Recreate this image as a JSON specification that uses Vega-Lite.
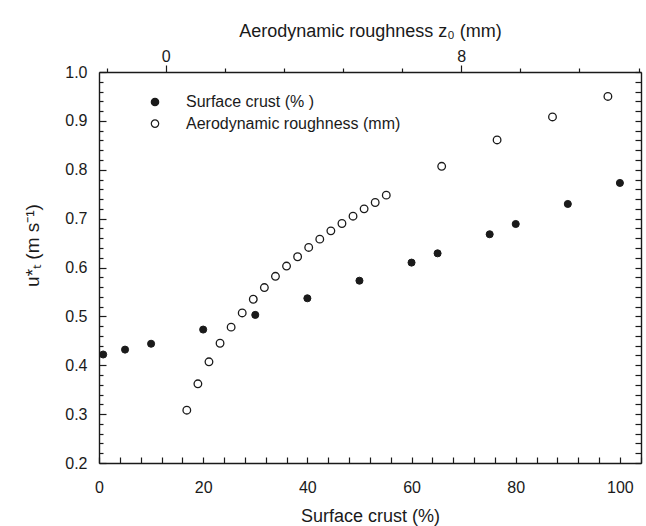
{
  "$schema": "https://vega.github.io/schema/vega-lite/v6.json",
  "width": 542,
  "height": 391,
  "autosize": "none",
  "padding": {"left": 99, "top": 72, "right": 5, "bottom": 63},
  "config": {
    "font": "Liberation Sans",
    "view": {"stroke": null},
    "axis": {
      "domainColor": "#1a1a1a",
      "domainWidth": 1.4,
      "tickColor": "#1a1a1a",
      "tickWidth": 1.2,
      "labelColor": "#1a1a1a",
      "titleColor": "#1a1a1a",
      "labelFontSize": 16,
      "titleFontSize": 18,
      "titleFontWeight": "normal",
      "grid": false,
      "labelFlush": false,
      "labelOverlap": false
    }
  },
  "datasets": {
    "crust": [
      {"crust": 0.8, "ustar": 0.422},
      {"crust": 5, "ustar": 0.432},
      {"crust": 10, "ustar": 0.444},
      {"crust": 20, "ustar": 0.473},
      {"crust": 30, "ustar": 0.503},
      {"crust": 40, "ustar": 0.537},
      {"crust": 50, "ustar": 0.573},
      {"crust": 60, "ustar": 0.61},
      {"crust": 65, "ustar": 0.629},
      {"crust": 75, "ustar": 0.668},
      {"crust": 80, "ustar": 0.689},
      {"crust": 90, "ustar": 0.73},
      {"crust": 100, "ustar": 0.773}
    ],
    "rough": [
      {"z0": 0.57, "ustar": 0.308},
      {"z0": 0.87, "ustar": 0.362},
      {"z0": 1.17, "ustar": 0.407},
      {"z0": 1.47, "ustar": 0.445},
      {"z0": 1.77, "ustar": 0.478},
      {"z0": 2.07, "ustar": 0.507},
      {"z0": 2.37, "ustar": 0.535},
      {"z0": 2.67, "ustar": 0.559},
      {"z0": 2.97, "ustar": 0.582},
      {"z0": 3.27, "ustar": 0.603},
      {"z0": 3.57, "ustar": 0.622},
      {"z0": 3.87, "ustar": 0.641},
      {"z0": 4.17, "ustar": 0.658},
      {"z0": 4.47, "ustar": 0.675},
      {"z0": 4.77, "ustar": 0.69},
      {"z0": 5.07, "ustar": 0.705},
      {"z0": 5.37, "ustar": 0.72},
      {"z0": 5.67, "ustar": 0.733},
      {"z0": 5.97, "ustar": 0.748},
      {"z0": 7.47, "ustar": 0.807},
      {"z0": 8.97, "ustar": 0.861},
      {"z0": 10.47, "ustar": 0.908},
      {"z0": 11.97, "ustar": 0.95}
    ]
  },
  "layer": [
    {
      "data": {"name": "crust"},
      "mark": {"type": "point", "filled": true, "size": 50, "stroke": "#1a1a1a", "strokeWidth": 1, "opacity": 1},
      "encoding": {
        "x": {
          "field": "crust", "type": "quantitative",
          "scale": {"domain": [0, 104.05], "nice": false, "zero": false},
          "axis": {
            "orient": "bottom",
            "values": [0,4,8,12,16,20,24,28,32,36,40,44,48,52,56,60,64,68,72,76,80,84,88,92,96,100,104],
            "format": "d",
            "labelExpr": "datum.value % 20 === 0 ? datum.label : ''",
            "labelOverlap": false,
            "tickSize": -6,
            "labelPadding": 22,
            "title": "Surface crust (%)",
            "titleY": 44
          }
        },
        "y": {
          "field": "ustar", "type": "quantitative",
          "scale": {"domain": [0.2, 1.0], "nice": false, "zero": false},
          "axis": {
            "orient": "left",
            "values": [0.2,0.22,0.24,0.26,0.28,0.3,0.32,0.34,0.36,0.38,0.4,0.42,0.44,0.46,0.48,0.5,0.52,0.54,0.56,0.58,0.6,0.62,0.64,0.66,0.68,0.7,0.72,0.74,0.76,0.78,0.8,0.82,0.84,0.86,0.88,0.9,0.92,0.94,0.96,0.98,1.0],
            "format": ".1f",
            "labelExpr": "abs(datum.value*10 - round(datum.value*10)) < 0.001 ? datum.label : ''",
            "labelOverlap": false,
            "tickSize": {"condition": {"test": "abs(datum.value*10 - round(datum.value*10)) < 0.001", "value": -7}, "value": -4},
            "labelPadding": 19,
            "title": "u*ₜ (m s⁻¹)",
            "titleFontSize": 19,
            "titleX": -61,
            "titleY": 173,
            "titleBaseline": "alphabetic"
          }
        },
        "fill": {
          "datum": "Surface crust (% )", "type": "nominal",
          "scale": {"domain": ["Surface crust (% )", "Aerodynamic roughness (mm)"], "range": ["#1a1a1a", "#ffffff"]},
          "legend": {
            "orient": "none",
            "legendX": 48,
            "legendY": 22,
            "title": null,
            "padding": 0,
            "symbolType": "circle",
            "symbolSize": 55,
            "symbolStrokeColor": "#1a1a1a",
            "symbolStrokeWidth": 1.2,
            "labelFontSize": 16,
            "labelLimit": 400,
            "labelColor": "#1a1a1a",
            "labelOffset": 23,
            "rowPadding": 5.6
          }
        }
      }
    },
    {
      "data": {"name": "rough"},
      "mark": {"type": "point", "filled": true, "size": 58, "stroke": "#1a1a1a", "strokeWidth": 1.3, "opacity": 1},
      "encoding": {
        "x": {
          "field": "z0", "type": "quantitative",
          "scale": {"domain": [-1.807, 12.866], "nice": false, "zero": false},
          "axis": {
            "orient": "top",
            "values": [-1.6,-1.2,-0.8,-0.4,0,0.4,0.8,1.2,1.6,2,2.4,2.8,3.2,3.6,4,4.4,4.8,5.2,5.6,6,6.4,6.8,7.2,7.6,8,8.4,8.8,9.2,9.6,10,10.4,10.8,11.2,11.6,12,12.4,12.8],
            "format": "d",
            "labelExpr": "abs(datum.value/2 - round(datum.value/2)) < 0.001 ? datum.label : ''",
            "labelOverlap": false,
            "tickSize": {"condition": {"test": "abs(datum.value/2 - round(datum.value/2)) < 0.001", "value": 7}, "value": 4},
            "labelPadding": 1,
            "title": "Aerodynamic roughness z₀ (mm)",
            "titleY": -36,
            "titleBaseline": "alphabetic"
          }
        },
        "y": {
          "field": "ustar", "type": "quantitative",
          "axis": {
            "orient": "right",
            "values": [0.2,0.22,0.24,0.26,0.28,0.3,0.32,0.34,0.36,0.38,0.4,0.42,0.44,0.46,0.48,0.5,0.52,0.54,0.56,0.58,0.6,0.62,0.64,0.66,0.68,0.7,0.72,0.74,0.76,0.78,0.8,0.82,0.84,0.86,0.88,0.9,0.92,0.94,0.96,0.98,1.0],
            "labels": false,
            "tickSize": -6,
            "title": null
          }
        },
        "fill": {"datum": "Aerodynamic roughness (mm)", "type": "nominal"}
      }
    }
  ],
  "resolve": {"scale": {"x": "independent"}, "axis": {"x": "independent", "y": "independent"}}
}
